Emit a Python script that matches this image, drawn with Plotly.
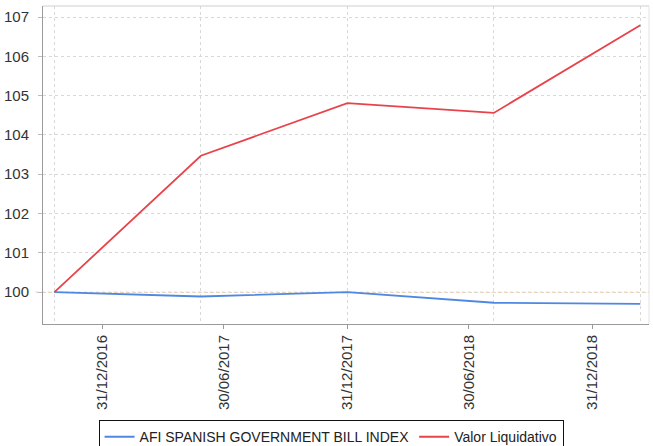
import plotly.graph_objects as go

# Observation dates and values
dates = ["2016-10-21", "2017-05-27", "2017-12-31", "2018-08-06", "2019-03-12"]
index_values = [100.0, 99.89, 100.0, 99.73, 99.70]
fund_values = [100.0, 103.47, 104.81, 104.56, 106.79]

# Axis tick positions and labels
tick_dates = ["2016-12-31", "2017-06-30", "2017-12-31", "2018-06-30", "2018-12-31"]
tick_labels = ["31/12/2016", "30/06/2017", "31/12/2017", "30/06/2018", "31/12/2018"]
y_ticks = [100, 101, 102, 103, 104, 105, 106, 107]

x_range = ["2016-10-04", "2019-03-25"]
y_range = [99.19, 107.28]

FONT = "Liberation Sans, Arial, sans-serif"
GRID = "#d8d8d8"

fig = go.Figure()
fig.add_trace(go.Scatter(
    x=dates, y=index_values, mode="lines",
    name="AFI SPANISH GOVERNMENT BILL INDEX",
    line=dict(color="#4f88e3", width=1.8),
))
fig.add_trace(go.Scatter(
    x=dates, y=fund_values, mode="lines",
    name="Valor Liquidativo",
    line=dict(color="#e8434a", width=1.8),
))

# Invisible helper trace on the overlay axis that carries the vertical grid
fig.add_trace(go.Scatter(
    x=dates, y=fund_values, xaxis="x2", mode="lines",
    line=dict(width=0), opacity=0, showlegend=False, hoverinfo="skip",
))

# Dotted reference line at the base value
fig.add_shape(type="line", xref="paper", yref="y", x0=-0.012, x1=1, y0=100, y1=100,
              line=dict(color="#f2c58a", width=1, dash="dot"), layer="below")

fig.update_layout(
    width=653, height=446,
    margin=dict(l=43, r=4, t=6, b=122, autoexpand=False),
    paper_bgcolor="white", plot_bgcolor="white",
    font=dict(family=FONT, size=15, color="#333333"),
    xaxis=dict(
        type="date", range=x_range,
        tickmode="array", tickvals=tick_dates, ticktext=tick_labels,
        tickangle=-90, tickfont=dict(size=15, color="#333333"),
        ticks="outside", ticklen=4, tickcolor="#999999",
        showgrid=False, zeroline=False,
        showline=True, linecolor="#9a9a9a", linewidth=1,
        mirror=False,
    ),
    xaxis2=dict(
        type="date", range=x_range, overlaying="x",
        tickmode="array", tickvals=dates,
        showticklabels=False, ticks="",
        showgrid=True, gridcolor=GRID, griddash="dot", gridwidth=1,
        zeroline=False, showline=False,
    ),
    yaxis=dict(
        range=y_range, tickmode="array", tickvals=y_ticks,
        tickfont=dict(size=15, color="#333333"),
        ticks="outside", ticklen=4, tickcolor="#bbbbbb",
        ticklabelstandoff=6,
        showgrid=True, gridcolor=GRID, griddash="dot", gridwidth=1,
        zeroline=False,
        showline=True, linecolor="#9a9a9a", linewidth=1,
    ),
    legend=dict(
        orientation="h", xanchor="center", x=0.507, xref="container",
        yanchor="top", y=0.058, yref="container",
        bordercolor="#111111", borderwidth=1, bgcolor="white",
        font=dict(family=FONT, size=14, color="#222222"),
        itemwidth=30, tracegroupgap=0,
    ),
    showlegend=True,
)

# Light frame on top and right of the plotting area
fig.add_shape(type="line", xref="paper", yref="paper", x0=0, x1=1, y0=1, y1=1,
              line=dict(color="#cfcfcf", width=1))
fig.add_shape(type="line", xref="paper", yref="paper", x0=1, x1=1, y0=0, y1=1,
              line=dict(color="#e3e3e3", width=1))

fig.write_html("out.html")
